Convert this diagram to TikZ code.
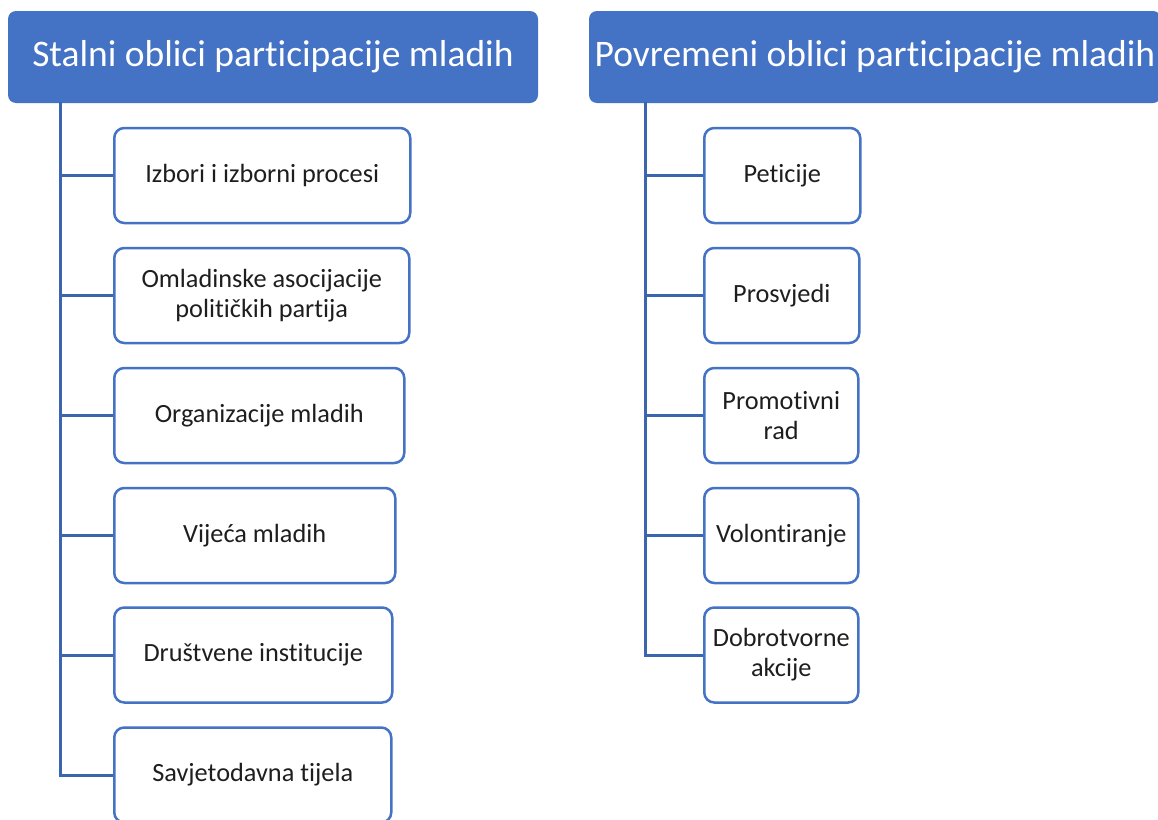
\documentclass[tikz,border=0pt]{standalone}
\usepackage{fontspec}
\setmainfont{Carlito}[Ligatures=NoCommon]
\usepackage{tikz}
\definecolor{hdrblue}{HTML}{4472C4}
\definecolor{lineblue}{HTML}{3C65B0}
\definecolor{txtgray}{HTML}{1E1E1E}

\begin{document}
\begin{tikzpicture}[x=1pt,y=-1pt]
  \tikzstyle{HeadStyle}=[fill=hdrblue,rounded corners=8pt,text=white,
    minimum height=92pt,inner sep=0pt,font=\fontsize{37.5}{45}\selectfont]
  \tikzstyle{ItemStyle}=[draw=hdrblue,line width=2.5pt,fill=white,rounded corners=10pt,
    minimum height=95pt,inner sep=2pt,anchor=west,align=center,text=txtgray,
    font=\fontsize{26.3}{30}\selectfont]
  \tikzstyle{LinkStyle}=[draw=lineblue,line width=3pt]
  \clip (0,0) rectangle (1158,819);
  \fill[white] (0,0) rectangle (1158,819);
  % headers
  \node[HeadStyle,minimum width=530pt] (stalni) at (273,57) {Stalni oblici participacije mladih};
  \node[HeadStyle,minimum width=572pt] (povremeni) at (875,57) {Povremeni oblici participacije mladih};
  \coordinate (spineA) at (60,102);
  \coordinate (spineB) at (645,102);
  % left column
  \node[ItemStyle,minimum width=296pt] (izbori) at (113,175.5) {Izbori i izborni procesi};
  \node[ItemStyle,minimum width=295pt] (omladinske) at (113,295.5) {Omladinske asocijacije\\političkih partija};
  \node[ItemStyle,minimum width=290pt] (organizacije) at (113,415.5) {Organizacije mladih};
  \node[ItemStyle,minimum width=281pt] (vijeca) at (113,535.5) {Vijeća mladih};
  \node[ItemStyle,minimum width=278pt] (drustvene) at (113,655) {Društvene institucije};
  \node[ItemStyle,minimum width=277pt] (savjetodavna) at (113,775) {Savjetodavna tijela};
  % right column
  \node[ItemStyle,minimum width=156pt] (peticije) at (703,175.5) {Peticije};
  \node[ItemStyle,minimum width=155pt] (prosvjedi) at (703,295.5) {Prosvjedi};
  \node[ItemStyle,minimum width=154pt] (promotivni) at (703,415.5) {Promotivni\\rad};
  \node[ItemStyle,minimum width=154pt] (volontiranje) at (703,535.5) {Volontiranje};
  \node[ItemStyle,minimum width=154pt] (dobrotvorne) at (703,655) {Dobrotvorne\\akcije};
  % links
  \foreach \n in {izbori,omladinske,organizacije,vijeca,drustvene,savjetodavna}
    \draw[LinkStyle] (spineA) |- (\n.west);
  \foreach \n in {peticije,prosvjedi,promotivni,volontiranje,dobrotvorne}
    \draw[LinkStyle] (spineB) |- (\n.west);
\end{tikzpicture}
\end{document}
